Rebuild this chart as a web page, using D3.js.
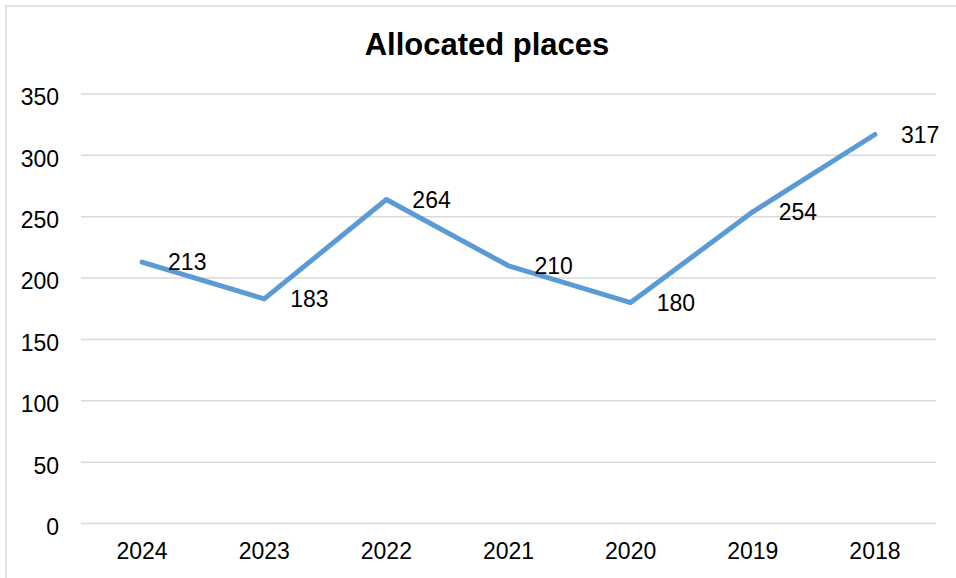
<!DOCTYPE html>
<html>
<head>
<meta charset="utf-8">
<script src="https://cdn.jsdelivr.net/npm/d3@7"></script>
<style>
  body { margin: 0; background: #fff; }
  text { font-family: "Liberation Sans", Arial, sans-serif; fill: #000; }
</style>
</head>
<body>
<script>
var years = ["2024", "2023", "2022", "2021", "2020", "2019", "2018"];
var places = [213, 183, 264, 210, 180, 254, 317];
var yTicks = [0, 50, 100, 150, 200, 250, 300, 350];

var width = 956,
    height = 578,
    margin = {top: 94, right: 20, bottom: 54, left: 81};

var svg = d3.select("body").append("svg")
    .attr("width", width)
    .attr("height", height);

// chart frame
svg.append("rect")
    .attr("x", 6).attr("y", 6)
    .attr("width", 960).attr("height", 600)
    .attr("fill", "none")
    .attr("stroke", "#d9d9d9")
    .attr("stroke-width", 1.5);

var x = d3.scaleBand()
    .domain(years)
    .range([margin.left, 936]);

var y = d3.scaleLinear()
    .domain([0, 350])
    .range([523.5, margin.top]);

svg.append("text")
    .attr("x", 487)
    .attr("y", 44.5)
    .attr("dy", "0.35em")
    .attr("text-anchor", "middle")
    .style("font-size", "31px")
    .style("font-weight", "bold")
    .text("Allocated places");

// gridlines
svg.append("g").selectAll("line")
    .data(yTicks)
    .enter().append("line")
    .attr("x1", margin.left)
    .attr("x2", 936)
    .attr("y1", d => y(d))
    .attr("y2", d => y(d))
    .attr("stroke", "#d9d9d9")
    .attr("stroke-width", 1.5);

var yAxis = svg.append("g")
    .attr("transform", "translate(" + (margin.left - 22) + ",3.5)")
    .call(d3.axisLeft(y).tickValues(yTicks).tickSize(0).tickPadding(0));
yAxis.select(".domain").remove();
yAxis.selectAll("text").style("font-size", "23px").attr("fill", "#000");

var xAxis = svg.append("g")
    .attr("transform", "translate(0," + 543 + ")")
    .call(d3.axisBottom(x).tickSize(0).tickPadding(0));
xAxis.select(".domain").remove();
xAxis.selectAll("text").style("font-size", "23px").attr("fill", "#000");

var line = d3.line()
    .x((d, i) => x(years[i]) + x.bandwidth() / 2)
    .y(d => y(d));

svg.append("path")
    .datum(places)
    .attr("d", line)
    .attr("fill", "none")
    .attr("stroke", "#5b9bd5")
    .attr("stroke-width", 5)
    .attr("stroke-linejoin", "round")
    .attr("stroke-linecap", "round");

svg.append("g").selectAll("text")
    .data(places)
    .enter().append("text")
    .attr("x", (d, i) => x(years[i]) + x.bandwidth() / 2 + 26)
    .attr("y", d => y(d))
    .attr("dy", "0.35em")
    .style("font-size", "23px")
    .text(d => d);
</script>
</body>
</html>
